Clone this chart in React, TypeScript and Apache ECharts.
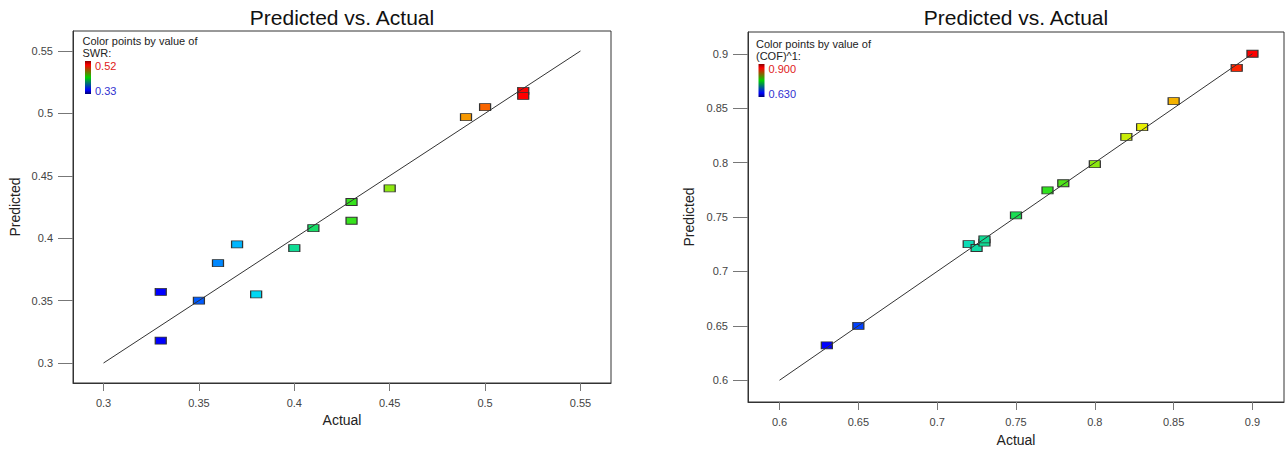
import React, { useEffect, useRef } from "react";
import * as echarts from "echarts";

// ---- Data: left chart (SWR) ----
const actualSWR = [0.33, 0.33, 0.35, 0.36, 0.37, 0.38, 0.40, 0.41, 0.43, 0.43, 0.45, 0.49, 0.50, 0.52, 0.52];
const predSWR = [0.357, 0.318, 0.350, 0.380, 0.395, 0.355, 0.392, 0.408, 0.429, 0.414, 0.440, 0.497, 0.505, 0.518, 0.514];
const diagSWR = [0.3, 0.55];
const ticksSWR = [0.3, 0.35, 0.4, 0.45, 0.5, 0.55];
const rangeSWR = [0.284, 0.566];
const colorRangeSWR = [0.33, 0.52];
const legendLabelsSWR = ["0.52", "0.33"];

// ---- Data: right chart (COF) ----
const actualCOF = [0.63, 0.65, 0.72, 0.725, 0.73, 0.73, 0.75, 0.77, 0.78, 0.80, 0.82, 0.83, 0.85, 0.89, 0.90];
const predCOF = [0.632, 0.650, 0.725, 0.7215, 0.7265, 0.7295, 0.7515, 0.7745, 0.781, 0.7985, 0.8237, 0.8325, 0.8564, 0.887, 0.900];
const diagCOF = [0.6, 0.9];
const ticksCOF = [0.6, 0.65, 0.7, 0.75, 0.8, 0.85, 0.9];
const rangeCOF = [0.58, 0.92];
const colorRangeCOF = [0.63, 0.90];
const legendLabelsCOF = ["0.900", "0.630"];

const TITLE = "Predicted vs. Actual";
const FONT = 'Arial, "Liberation Sans", sans-serif';
const RAINBOW = ["#0000ff", "#00d8ff", "#20e020", "#f0f000", "#ff0000"];

function zip(a: number[], b: number[]) {
  return a.map((v, i) => [v, b[i]]);
}

function makeAxis(gridIndex: number, range: number[], ticks: number[], name: string, isX: boolean, gap: number) {
  return {
    type: "value",
    gridIndex,
    min: range[0],
    max: range[1],
    name,
    nameLocation: "middle",
    nameGap: gap,
    nameTextStyle: { fontSize: 14, color: "#222", fontFamily: FONT },
    splitLine: { show: false },
    axisLine: { show: true, lineStyle: { color: "#333", width: 1 } },
    axisTick: {
      show: true,
      customValues: ticks,
      length: isX ? 8 : 15,
      lineStyle: { color: "#777", width: 1 },
    },
    axisLabel: {
      customValues: ticks,
      fontSize: 11,
      color: "#444",
      fontFamily: FONT,
      margin: isX ? 14 : 20,
    },
  };
}

function legend(x: number, y: number, varName: string, labels: string[]) {
  return [
    { type: "text", x, y, style: { text: "Color points by value of", font: `11px ${FONT}`, fill: "#222", verticalAlign: "middle" } },
    { type: "text", x, y: y + 11.5, style: { text: varName, font: `11px ${FONT}`, fill: "#222", verticalAlign: "middle" } },
    {
      type: "rect",
      shape: { x: x + 2.5, y: y + 20, width: 6, height: 33 },
      style: {
        fill: new echarts.graphic.LinearGradient(0, 0, 0, 1, [
          { offset: 0, color: "#8a0000" },
          { offset: 0.12, color: "#ff0000" },
          { offset: 0.5, color: "#00d000" },
          { offset: 0.88, color: "#0000ff" },
          { offset: 1, color: "#000070" },
        ]),
      },
    },
    { type: "text", x: x + 12.5, y: y + 25, style: { text: labels[0], font: `11px ${FONT}`, fill: "#e02020", verticalAlign: "middle" } },
    { type: "text", x: x + 12.5, y: y + 49.5, style: { text: labels[1], font: `11px ${FONT}`, fill: "#3030d0", verticalAlign: "middle" } },
  ];
}

export default function App() {
  const ref = useRef<HTMLDivElement>(null);
  useEffect(() => {
    if (!ref.current) return;
    const chart = echarts.init(ref.current, undefined, { renderer: "svg" });
    const scatterCommon = {
      type: "scatter",
      symbol: "rect",
      symbolSize: [11, 7],
      itemStyle: { borderColor: "#333", borderWidth: 1, opacity: 1 },
      z: 2,
    };
    const lineCommon = {
      type: "line",
      symbol: "none",
      lineStyle: { color: "#333", width: 1 },
      z: 3,
      silent: true,
    };
    chart.setOption({
      animation: false,
      backgroundColor: "#fff",
      grid: [
        { left: 73, top: 31, width: 538, height: 352, show: true, borderColor: "#333", borderWidth: 1, backgroundColor: "#fff" },
        { left: 748, top: 32, width: 536, height: 370, show: true, borderColor: "#333", borderWidth: 1, backgroundColor: "#fff" },
      ],
      xAxis: [
        makeAxis(0, rangeSWR, ticksSWR, "Actual", true, 29),
        makeAxis(1, rangeCOF, ticksCOF, "Actual", true, 31),
      ],
      yAxis: [
        makeAxis(0, rangeSWR, ticksSWR, "Predicted", false, 51),
        makeAxis(1, rangeCOF, ticksCOF, "Predicted", false, 52),
      ],
      visualMap: [
        { type: "continuous", show: false, seriesIndex: 0, dimension: 0, min: colorRangeSWR[0], max: colorRangeSWR[1], inRange: { color: RAINBOW } },
        { type: "continuous", show: false, seriesIndex: 2, dimension: 0, min: colorRangeCOF[0], max: colorRangeCOF[1], inRange: { color: RAINBOW } },
      ],
      series: [
        { ...scatterCommon, xAxisIndex: 0, yAxisIndex: 0, data: zip(actualSWR, predSWR) },
        { ...lineCommon, xAxisIndex: 0, yAxisIndex: 0, data: zip(diagSWR, diagSWR) },
        { ...scatterCommon, xAxisIndex: 1, yAxisIndex: 1, data: zip(actualCOF, predCOF) },
        { ...lineCommon, xAxisIndex: 1, yAxisIndex: 1, data: zip(diagCOF, diagCOF) },
      ],
      graphic: [
        { type: "text", x: 342, y: 17, style: { text: TITLE, font: `21px ${FONT}`, fill: "#111", align: "center", verticalAlign: "middle" } },
        { type: "text", x: 1016, y: 17, style: { text: TITLE, font: `21px ${FONT}`, fill: "#111", align: "center", verticalAlign: "middle" } },
        ...legend(82.5, 41, "SWR:", legendLabelsSWR),
        ...legend(756, 44, "(COF)^1:", legendLabelsCOF),
      ],
    });
    return () => chart.dispose();
  }, []);
  return (
    <div
      ref={ref}
      style={{ position: "fixed", left: 0, top: 0, width: 1287, height: 452, background: "#fff" }}
    />
  );
}
